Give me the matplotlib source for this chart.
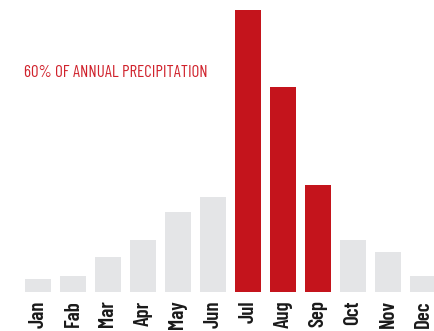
import matplotlib
matplotlib.use("Agg")
import matplotlib.pyplot as plt

months = ["Jan", "Fab", "Mar", "Apr", "May", "Jun", "Jul", "Aug", "Sep", "Oct", "Nov", "Dec"]
precip = [13, 16, 35, 52, 80, 95, 282, 205, 107, 52, 40, 16]
highlight = [False, False, False, False, False, False, True, True, True, False, False, False]
annotation = "60% OF ANNUAL PRECIPITATION"

GREY = "#e4e5e7"
RED = "#c4141c"
FONT = ["Barlow Condensed", "DejaVu Sans"]

W, H = 434, 331
fig = plt.figure(figsize=(W / 100, H / 100), dpi=100)
base_px = 292
ax = fig.add_axes([0, (H - base_px) / H, 1, base_px / H])

x = list(range(len(months)))
colors = [RED if h else GREY for h in highlight]
ax.bar(x, precip, width=26 / 35, color=colors, linewidth=0)

ax.set_xlim(-38 / 35, (W - 38) / 35)
ax.set_ylim(0, 282 * base_px / (base_px - 10))

ax.set_xticks(x)
ax.set_xticklabels(months, rotation=90, family=FONT, fontsize=15,
                   fontweight=600, color="#1a1a1a", va="top")
ax.tick_params(axis="x", length=0, pad=6)
ax.set_yticks([])
for s in ax.spines.values():
    s.set_visible(False)

fig.text(24 / W, 1 - 72.5 / H, annotation, family=FONT, fontsize=12.2,
         color="#d0222c", va="center", ha="left")

fig.savefig("out.png", dpi=100)
